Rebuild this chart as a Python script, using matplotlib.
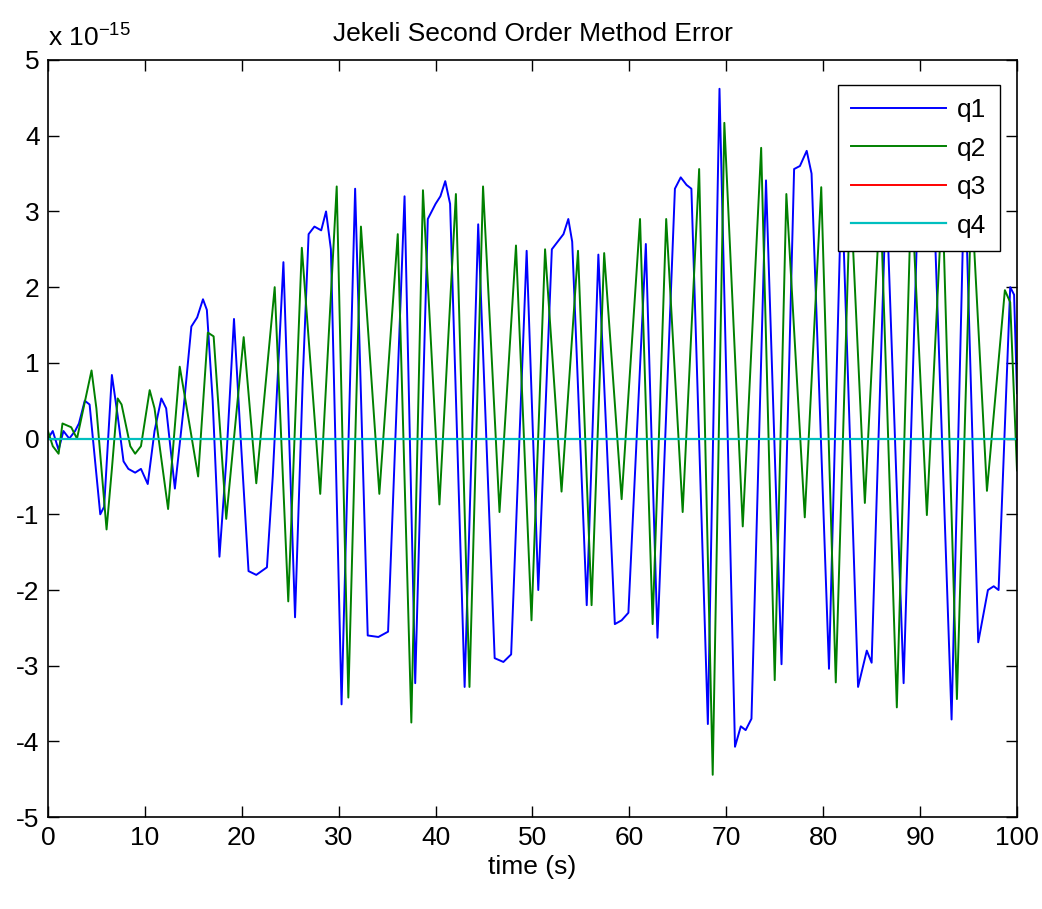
import matplotlib
matplotlib.use("Agg")
import matplotlib.pyplot as plt

plt.rcParams["font.family"] = ["Liberation Sans Narrow", "Liberation Sans", "DejaVu Sans"]
plt.rcParams["axes.unicode_minus"] = False

# values, in units of 1e-15
t_q1 = [0.0, 0.5, 1.1, 1.6, 2.2, 2.8, 3.2, 3.8, 4.3, 5.4, 5.8, 6.6, 7.2, 7.8, 8.3, 9.0, 9.6,
        10.3, 11.0, 11.7, 12.2, 13.1, 14.0, 14.8, 15.4, 16.0, 16.4, 17.0, 17.7, 18.4, 19.2,
        19.8, 20.7, 21.5, 22.6, 23.2, 24.3, 25.5, 26.3, 26.9, 27.5, 28.2, 28.7, 29.2, 30.3,
        31.7, 33.0, 34.1, 35.1, 36.8, 37.9, 39.2, 40.0, 40.5, 41.0, 41.5, 43.0, 44.4, 46.1,
        47.0, 47.8, 49.4, 50.6, 52.0, 52.6, 53.2, 53.7, 54.1, 55.6, 56.8, 58.5, 59.2, 59.9,
        61.7, 62.9, 64.7, 65.3, 65.9, 66.4, 68.1, 69.3, 70.9, 71.5, 72.0, 72.6, 74.1, 75.7,
        77.0, 77.6, 78.3, 78.8, 80.6, 81.9, 83.6, 84.5, 85.0, 86.5, 88.3, 89.8, 90.6, 91.4,
        93.25, 94.6, 96.0, 97.0, 97.6, 98.1, 99.3, 99.7, 100.0]
q1 = [0.0, 0.1, -0.15, 0.1, 0.0, 0.1, 0.2, 0.5, 0.45, -1.0, -0.9, 0.84, 0.3, -0.3, -0.4, -0.45, -0.4,
      -0.6, 0.1, 0.53, 0.4, -0.66, 0.4, 1.48, 1.6, 1.84, 1.7, 0.5, -1.56, -0.3, 1.58,
      0.2, -1.75, -1.8, -1.7, -0.5, 2.33, -2.36, 0.8, 2.7, 2.8, 2.75, 3.0, 2.5, -3.51,
      3.3, -2.6, -2.62, -2.55, 3.2, -3.23, 2.9, 3.1, 3.2, 3.4, 3.1, -3.28, 2.83, -2.9,
      -2.95, -2.85, 2.48, -2.0, 2.5, 2.6, 2.7, 2.9, 2.6, -2.2, 2.43, -2.45, -2.4, -2.3,
      2.57, -2.63, 3.3, 3.45, 3.35, 3.3, -3.77, 4.62, -4.07, -3.8, -3.85, -3.7, 3.41, -2.98,
      3.56, 3.6, 3.8, 3.5, -3.04, 3.4, -3.28, -2.8, -2.96, 3.3, -3.23, 3.2, 3.4, 3.2,
      -3.71, 3.6, -2.69, -2.0, -1.95, -2.0, 2.0, 1.9, 0.6]

t_q2 = [0.0, 0.5, 1.1, 1.5, 2.4, 3.0, 3.5, 4.5, 5.0, 6.05, 6.6, 7.2, 7.6, 8.5, 9.0, 9.6, 10.5,
        11.0, 12.4, 13.6, 14.2, 15.5, 16.5, 17.1, 18.4, 20.2, 21.5, 23.4, 24.8, 26.2, 28.1,
        29.8, 31.0, 32.3, 34.2, 36.1, 37.5, 38.7, 40.4, 42.1, 43.5, 44.9, 46.6, 48.3, 49.9,
        51.3, 53.0, 54.7, 56.1, 57.4, 59.2, 61.1, 62.4, 63.8, 65.5, 67.2, 68.6, 69.8, 71.7,
        73.6, 75.0, 76.2, 78.1, 79.8, 81.3, 82.8, 84.3, 85.9, 87.6, 89.1, 90.7, 92.3, 93.8,
        95.3, 96.9, 98.75, 99.3, 100.0]
q2 = [0.1, -0.1, -0.2, 0.2, 0.15, 0.0, 0.3, 0.9, 0.4, -1.2, -0.4, 0.53, 0.45, -0.1, -0.2, -0.1, 0.64,
      0.4, -0.93, 0.95, 0.5, -0.5, 1.4, 1.35, -1.06, 1.34, -0.59, 2.0, -2.15, 2.52, -0.73,
      3.33, -3.42, 2.8, -0.73, 2.7, -3.75, 3.28, -0.87, 3.23, -3.28, 3.33, -0.97, 2.55, -2.4,
      2.5, -0.7, 2.48, -2.2, 2.45, -0.8, 2.9, -2.45, 2.9, -0.97, 3.56, -4.44, 4.17, -1.16,
      3.84, -3.19, 3.23, -1.04, 3.32, -3.22, 3.3, -0.85, 3.2, -3.55, 3.3, -1.01, 3.2, -3.44,
      3.2, -0.69, 1.96, 1.8, -0.42]

t_flat = [0.0, 100.0]
q3 = [0.0, 0.0]
q4 = [0.0, 0.0]

fig = plt.figure(figsize=(10.42, 9.09), dpi=100)
ax = fig.add_axes([0.046, 0.101, 0.930, 0.833])

ax.plot(t_q1, q1, color="#0000ff", lw=1.4, label="q1")
ax.plot(t_q2, q2, color="#008000", lw=1.4, label="q2")
ax.plot(t_flat, q3, color="#ff0000", lw=1.4, label="q3")
ax.plot(t_flat, q4, color="#00bfbf", lw=1.6, label="q4")

ax.set_xlim(0, 100)
ax.set_ylim(-5, 5)
ax.set_xticks(range(0, 101, 10))
ax.set_yticks(range(-5, 6))
ax.tick_params(direction="in", top=True, right=True, length=8, width=1, labelsize=19, pad=6)
for s in ax.spines.values():
    s.set_linewidth(1.2)

ax.set_title("Jekeli Second Order Method Error", fontsize=19, pad=14)
ax.set_xlabel("time (s)", fontsize=19, labelpad=4)
ax.text(0.0, 1.012, r"x 10$^{\mathregular{-15}}$", transform=ax.transAxes,
        fontsize=19, ha="left", va="bottom")

leg = ax.legend(loc="upper right", bbox_to_anchor=(0.982, 0.967), borderaxespad=0,
                fontsize=19, handlelength=3.6, fancybox=False, framealpha=1,
                edgecolor="black", borderpad=0.5, labelspacing=0.55, handletextpad=0.4)
leg.get_frame().set_linewidth(1.0)

fig.savefig("out.png", dpi=100)
